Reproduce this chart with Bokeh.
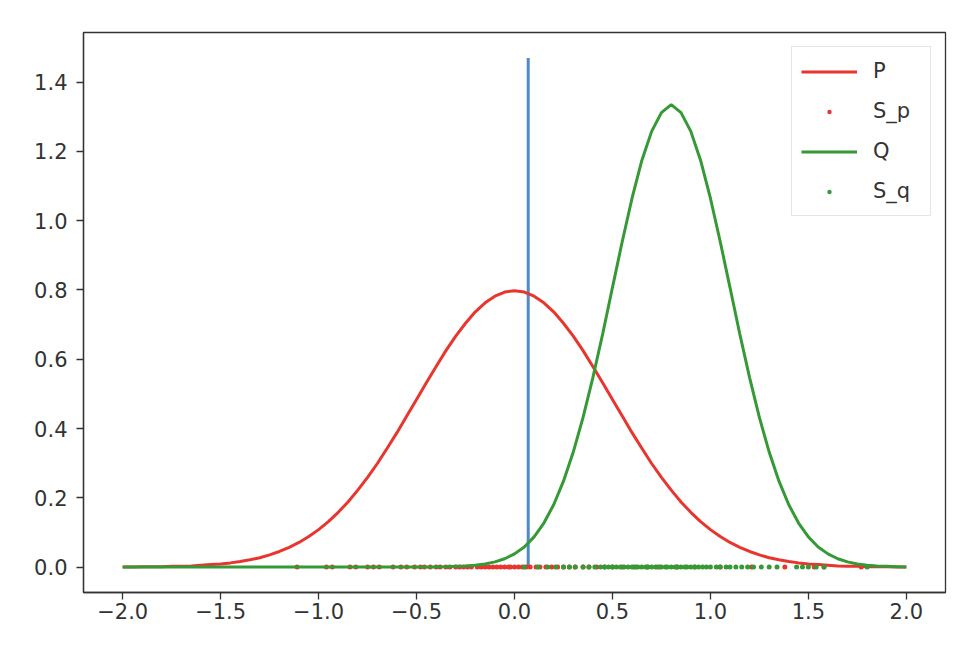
from bokeh.plotting import figure
from bokeh.models import Range1d, FixedTicker, Legend, LegendItem
from bokeh.embed import file_html
from bokeh.resources import INLINE

# ---- data ----
x_grid = [round(-2.0 + 0.05 * i, 2) for i in range(81)]

p_half = [0.798, 0.794, 0.782, 0.763, 0.737, 0.704, 0.667, 0.625, 0.579, 0.532,
          0.484, 0.436, 0.388, 0.343, 0.299, 0.259, 0.222, 0.188, 0.158, 0.131,
          0.108, 0.088, 0.071, 0.057, 0.045, 0.035, 0.027, 0.021, 0.016, 0.012,
          0.009, 0.007, 0.005, 0.003, 0.002, 0.002, 0.001, 0.001, 0.001, 0.0, 0.0]
p_values = p_half[:0:-1] + p_half  # x from -2.0 .. 2.0

q_values = [0.0] * 33 + [
    0.001, 0.002, 0.003, 0.005, 0.009, 0.015, 0.024, 0.038, 0.058, 0.087,
    0.127, 0.180, 0.248, 0.332, 0.432, 0.547, 0.673, 0.807, 0.940, 1.065,
    1.174, 1.258, 1.312, 1.335, 1.312, 1.258, 1.174, 1.065, 0.940, 0.807,
    0.673, 0.547, 0.432, 0.332, 0.248, 0.180, 0.127, 0.087, 0.058, 0.038,
    0.024, 0.015, 0.009, 0.005, 0.003, 0.002, 0.001, 0.0]

sp_x = [-1.11, -0.96, -0.93, -0.84, -0.81, -0.75, -0.72, -0.69, -0.62, -0.58,
        -0.55, -0.51, -0.48, -0.46, -0.43, -0.40, -0.38, -0.35, -0.33, -0.30,
        -0.28, -0.26, -0.24, -0.22, -0.19, -0.17, -0.15, -0.13, -0.11, -0.09,
        -0.07, -0.05, -0.03, -0.02, 0.0, 0.02, 0.04, 0.06, 0.08, 0.11, 0.13,
        0.16, 0.19, 0.22, 0.25, 0.28, 0.31, 0.35, 0.38, 0.42, 0.46, 0.50, 0.55,
        0.61, 0.68, 0.74, 0.83, 0.92, 1.05, 1.21, 1.38, 1.53, 1.58, 1.77]
sq_x = [0.05, 0.12, 0.17, 0.21, 0.25, 0.28, 0.31, 0.35, 0.38, 0.41, 0.44, 0.46,
        0.48, 0.50, 0.52, 0.54, 0.56, 0.58, 0.60, 0.62, 0.63, 0.65, 0.67, 0.68,
        0.70, 0.72, 0.73, 0.75, 0.77, 0.78, 0.80, 0.82, 0.83, 0.85, 0.87, 0.88,
        0.90, 0.92, 0.94, 0.96, 0.98, 1.00, 1.03, 1.05, 1.08, 1.10, 1.13, 1.16,
        1.19, 1.22, 1.26, 1.30, 1.34, 1.44, 1.47, 1.50, 1.54, 1.58, 1.80]
sp_y = [0.0] * len(sp_x)
sq_y = [0.0] * len(sq_x)

vline_x = 0.07
vline_top = 1.47

x_ticks = [-2.0, -1.5, -1.0, -0.5, 0.0, 0.5, 1.0, 1.5, 2.0]
x_tick_labels = ["\u22122.0", "\u22121.5", "\u22121.0", "\u22120.5", "0.0", "0.5", "1.0", "1.5", "2.0"]
y_ticks = [0.0, 0.2, 0.4, 0.6, 0.8, 1.0, 1.2, 1.4]
y_tick_labels = ["0.0", "0.2", "0.4", "0.6", "0.8", "1.0", "1.2", "1.4"]

RED = "#e8352e"
GREEN = "#359a35"
BLUE = "#5088c8"
FONT = "DejaVu Sans"
TXT = "#333333"
FS = "21px"

p = figure(width=970, height=648, output_backend="svg", toolbar_location=None,
           x_range=Range1d(-2.2, 2.2), y_range=Range1d(-0.0735, 1.5435),
           min_border_left=83, min_border_right=25, min_border_top=32, min_border_bottom=56)
p.background_fill_color = "white"
p.border_fill_color = "white"
p.grid.visible = False
p.outline_line_color = "#333333"
p.outline_line_width = 1.3

for ax in (p.xaxis[0], p.yaxis[0]):
    ax.axis_line_color = "#333333"
    ax.axis_line_width = 1.3
    ax.major_tick_in = 0
    ax.major_tick_out = 7
    ax.major_tick_line_color = "#333333"
    ax.major_tick_line_width = 1.3
    ax.minor_tick_line_color = None
    ax.major_label_text_font = FONT
    ax.major_label_text_font_size = FS
    ax.major_label_text_color = TXT

p.xaxis.major_label_standoff = 3
p.yaxis.major_label_standoff = 9
p.xaxis.ticker = FixedTicker(ticks=x_ticks)
p.xaxis.major_label_overrides = dict(zip(x_ticks, x_tick_labels))
p.yaxis.ticker = FixedTicker(ticks=y_ticks)
p.yaxis.major_label_overrides = dict(zip(y_ticks, y_tick_labels))

p.segment(x0=[vline_x], y0=[0.0], x1=[vline_x], y1=[vline_top], line_color=BLUE, line_width=3)
r_p = p.line(x_grid, p_values, line_color=RED, line_width=3)
r_sp = p.scatter(sp_x, sp_y, size=5, color=RED, line_color=None)
r_q = p.line(x_grid, q_values, line_color=GREEN, line_width=3)
r_sq = p.scatter(sq_x, sq_y, size=5, color=GREEN, line_color=None)

legend = Legend(items=[LegendItem(label="P", renderers=[r_p]),
                       LegendItem(label="S_p", renderers=[r_sp]),
                       LegendItem(label="Q", renderers=[r_q]),
                       LegendItem(label="S_q", renderers=[r_sq])],
                location="top_right")
legend.margin = 14
legend.padding = 9
legend.spacing = 10
legend.glyph_width = 56
legend.glyph_height = 11
legend.label_height = 30
legend.label_width = 48
legend.label_standoff = 16
legend.label_text_font = FONT
legend.label_text_font_size = FS
legend.label_text_color = TXT
legend.border_line_color = "#cccccc"
legend.border_line_width = 1
legend.background_fill_alpha = 0.8
p.add_layout(legend, "center")

open("out.html", "w").write(file_html(p, INLINE))
